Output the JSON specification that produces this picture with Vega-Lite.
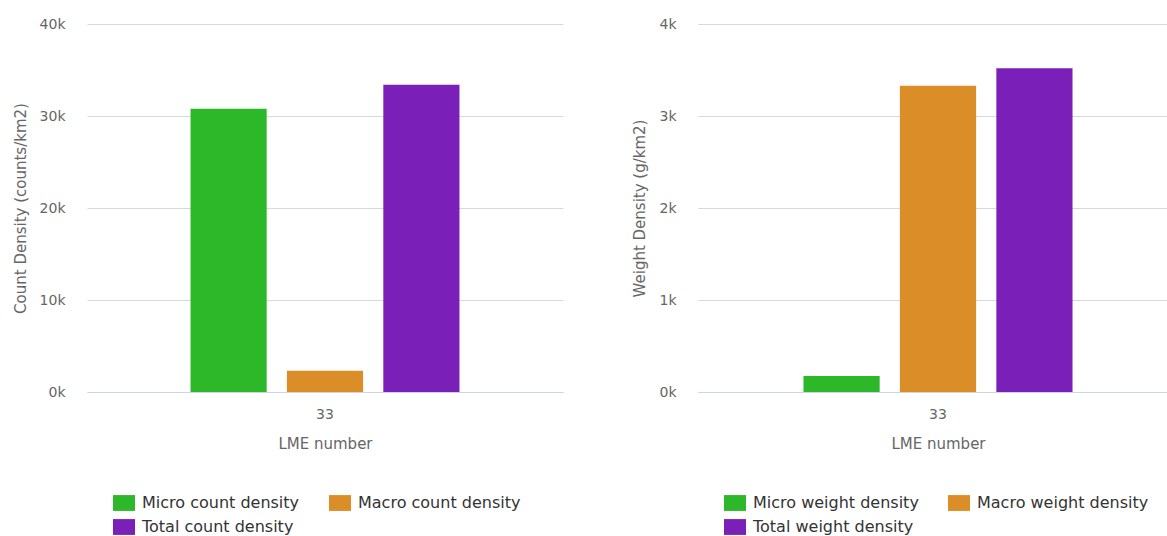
{
  "$schema": "https://vega.github.io/schema/vega-lite/v6.json",
  "padding": {"left": 13, "top": 17, "right": 0, "bottom": 0},
  "background": "white",
  "spacing": 69,
  "config": {
    "font": "DejaVu Sans",
    "view": {"stroke": null},
    "axis": {
      "labelColor": "#666666",
      "titleColor": "#666666",
      "labelFontSize": 14,
      "titleFontSize": 15,
      "titleFontWeight": "normal",
      "labelFont": "DejaVu Sans",
      "titleFont": "DejaVu Sans"
    },
    "legend": {
      "labelFont": "DejaVu Sans",
      "labelFontSize": 16,
      "labelColor": "#333333",
      "labelLimit": 300,
      "symbolType": "M-1,-0.72H1V0.72H-1Z",
      "symbolSize": 484,
      "symbolStrokeWidth": 0,
      "symbolOpacity": 1,
      "labelOffset": 7,
      "columnPadding": 29,
      "rowPadding": 5,
      "padding": 0,
      "offset": 0
    }
  },
  "datasets": {
    "count": [
      {"lme": "33", "series": "Micro count density", "value": 30800},
      {"lme": "33", "series": "Macro count density", "value": 2300},
      {"lme": "33", "series": "Total count density", "value": 33400}
    ],
    "weight": [
      {"lme": "33", "series": "Micro weight density", "value": 175},
      {"lme": "33", "series": "Macro weight density", "value": 3330},
      {"lme": "33", "series": "Total weight density", "value": 3520}
    ]
  },
  "hconcat": [
    {
      "width": 476,
      "height": 368,
      "data": {"name": "count"},
      "mark": {"type": "bar"},
      "encoding": {
        "x": {
          "field": "lme", "type": "nominal",
          "scale": {"paddingInner": 0, "paddingOuter": 0.385},
          "axis": {"title": "LME number", "labelAngle": 0, "ticks": false, "domainColor": "#ccd6eb", "labelPadding": 15, "titlePadding": 15, "grid": false}
        },
        "xOffset": {
          "field": "series", "type": "nominal",
          "scale": {"domain": ["Micro count density", "Macro count density", "Total count density"], "paddingInner": 0.21, "paddingOuter": 0}
        },
        "y": {
          "field": "value", "type": "quantitative",
          "scale": {"domain": [0, 40000], "nice": false},
          "axis": {"title": "Count Density (counts/km2)", "values": [0, 10000, 20000, 30000, 40000], "labelExpr": "(datum.value/1000) + 'k'", "domain": false, "ticks": false, "gridColor": "#d8d8d8", "labelPadding": 22, "titlePadding": 11}
        },
        "color": {
          "field": "series", "type": "nominal",
          "scale": {"domain": ["Micro count density", "Macro count density", "Total count density"], "range": ["#2db82a", "#db8e27", "#7a20b8"]},
          "legend": {"title": null, "orient": "none", "legendX": 26, "legendY": 468, "columns": 2, "direction": "horizontal"}
        }
      }
    },
    {
      "width": 480,
      "height": 368,
      "data": {"name": "weight"},
      "mark": {"type": "bar"},
      "encoding": {
        "x": {
          "field": "lme", "type": "nominal",
          "scale": {"paddingInner": 0, "paddingOuter": 0.392},
          "axis": {"title": "LME number", "labelAngle": 0, "ticks": false, "domainColor": "#ccd6eb", "labelPadding": 15, "titlePadding": 15, "grid": false}
        },
        "xOffset": {
          "field": "series", "type": "nominal",
          "scale": {"domain": ["Micro weight density", "Macro weight density", "Total weight density"], "paddingInner": 0.21, "paddingOuter": 0}
        },
        "y": {
          "field": "value", "type": "quantitative",
          "scale": {"domain": [0, 4000], "nice": false},
          "axis": {"title": "Weight Density (g/km2)", "values": [0, 1000, 2000, 3000, 4000], "labelExpr": "(datum.value/1000) + 'k'", "domain": false, "ticks": false, "gridColor": "#d8d8d8", "labelPadding": 22, "titlePadding": 11}
        },
        "color": {
          "field": "series", "type": "nominal",
          "scale": {"domain": ["Micro weight density", "Macro weight density", "Total weight density"], "range": ["#2db82a", "#db8e27", "#7a20b8"]},
          "legend": {"title": null, "orient": "none", "legendX": 26, "legendY": 468, "columns": 2, "direction": "horizontal"}
        }
      }
    }
  ],
  "resolve": {"scale": {"color": "independent", "y": "independent", "x": "independent", "xOffset": "independent"}}
}
